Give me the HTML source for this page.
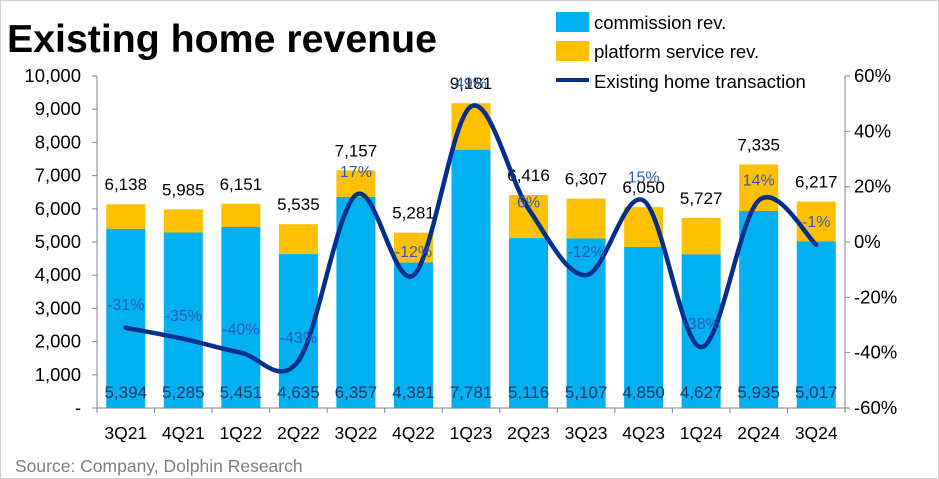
<!DOCTYPE html>
<html><head><meta charset="utf-8"><style>
html,body{margin:0;padding:0;background:#fff}
svg{display:block;font-family:"Liberation Sans",sans-serif}
</style></head><body>
<svg width="939" height="479" viewBox="0 0 939 479" xmlns="http://www.w3.org/2000/svg">
<rect x="0.5" y="0.5" width="938" height="478" fill="#fff" stroke="#d0d0d0"/>
<text x="7" y="52" font-size="39" font-weight="bold" fill="#000" textLength="430" lengthAdjust="spacingAndGlyphs">Existing home revenue</text>
<rect x="556" y="12" width="33" height="20" fill="#00B0F0"/>
<text x="594" y="29" font-size="18.5" fill="#000">commission rev.</text>
<rect x="556" y="41" width="33" height="20" fill="#FFC000"/>
<text x="594" y="58" font-size="18.5" fill="#000">platform service rev.</text>
<line x1="556" y1="80" x2="589" y2="80" stroke="#002F8E" stroke-width="4"/>
<text x="594" y="88" font-size="18.5" fill="#000">Existing home transaction</text>
<g id="chart"></g>
<text x="15" y="472" font-size="17.5" fill="#808080">Source: Company, Dolphin Research</text>
</svg>
<script>
const NS="http://www.w3.org/2000/svg";
const g=document.getElementById('chart');
function el(t,a,txt){const e=document.createElementNS(NS,t);for(const k in a)e.setAttribute(k,a[k]);if(txt!==undefined)e.textContent=txt;g.appendChild(e);return e;}
const L=97,R=845,Y0=408,Y10=76;
const ys=v=>Y0-(Y0-Y10)*v/10000;
const yp=p=>Y0-(Y0-Y10)*(p+60)/120;
const cats=["3Q21","4Q21","1Q22","2Q22","3Q22","4Q22","1Q23","2Q23","3Q23","4Q23","1Q24","2Q24","3Q24"];
const tot=[6138,5985,6151,5535,7157,5281,9181,6416,6307,6050,5727,7335,6217];
const com=[5394,5285,5451,4635,6357,4381,7781,5116,5107,4850,4627,5935,5017];
const pct=[-31,-35,-40,-43,17,-12,49,6,-12,15,-38,14,-1];
const lineV=[-31,-35,-40,-43,17,-12,49,12,-12,15,-38,15,-1];
const w=(R-L)/13;
const fmt=n=>n.toLocaleString('en-US');
el('line',{x1:L,y1:Y10,x2:L,y2:Y0,stroke:'#868686'});
el('line',{x1:R,y1:Y10,x2:R,y2:Y0,stroke:'#868686'});
el('line',{x1:L,y1:Y0,x2:R,y2:Y0,stroke:'#868686'});
for(let i=0;i<=10;i++){const y=ys(i*1000);el('line',{x1:L-5,y1:y,x2:L,y2:y,stroke:'#868686'});
 el('text',{x:L-16,y:y+6,'font-size':18.5,'text-anchor':'end',fill:'#000'},i==0?'-':fmt(i*1000));}
for(let p=-60;p<=60;p+=20){const y=yp(p);el('line',{x1:R,y1:y,x2:R+5,y2:y,stroke:'#868686'});
 el('text',{x:R+9,y:y+6,'font-size':18.5,fill:'#000'},p+'%');}
for(let i=0;i<=13;i++){const x=L+i*w;el('line',{x1:x,y1:Y0,x2:x,y2:Y0+5,stroke:'#868686'});}
const cx=i=>L+w/2+i*w;
for(let i=0;i<13;i++){
 const x=cx(i)-19.5;
 el('rect',{x:x,y:ys(tot[i]),width:39,height:ys(com[i])-ys(tot[i]),fill:'#FFC000'});
 el('rect',{x:x,y:ys(com[i]),width:39,height:Y0-ys(com[i]),fill:'#00B0F0'});
 el('text',{x:cx(i),y:ys(tot[i])-14,'font-size':17,'text-anchor':'middle',fill:'#000'},fmt(tot[i]));
 el('text',{x:cx(i),y:398,'font-size':17,'text-anchor':'middle',fill:'#1F3864'},fmt(com[i]));
 el('text',{x:cx(i),y:439,'font-size':17.5,'text-anchor':'middle',fill:'#000'},cats[i]);
}
const pts=lineV.map((v,i)=>[cx(i),yp(v)]);
let d='M'+pts[0][0]+','+pts[0][1];
for(let i=0;i<pts.length-1;i++){const p0=pts[Math.max(0,i-1)],p1=pts[i],p2=pts[i+1],p3=pts[Math.min(pts.length-1,i+2)];
 const t=1/6;d+=` C${p1[0]+(p2[0]-p0[0])*t},${p1[1]+(p2[1]-p0[1])*t} ${p2[0]-(p3[0]-p1[0])*t},${p2[1]-(p3[1]-p1[1])*t} ${p2[0]},${p2[1]}`;}
el('path',{d:d,fill:'none',stroke:'#002F8E','stroke-width':4.5,'stroke-linecap':'round'});
for(let i=0;i<13;i++){
 el('text',{x:cx(i),y:yp(pct[i])-18,'font-size':16,'text-anchor':'middle',fill:'#2E5DB8'},pct[i]+'%');
}
</script>
</body></html>
